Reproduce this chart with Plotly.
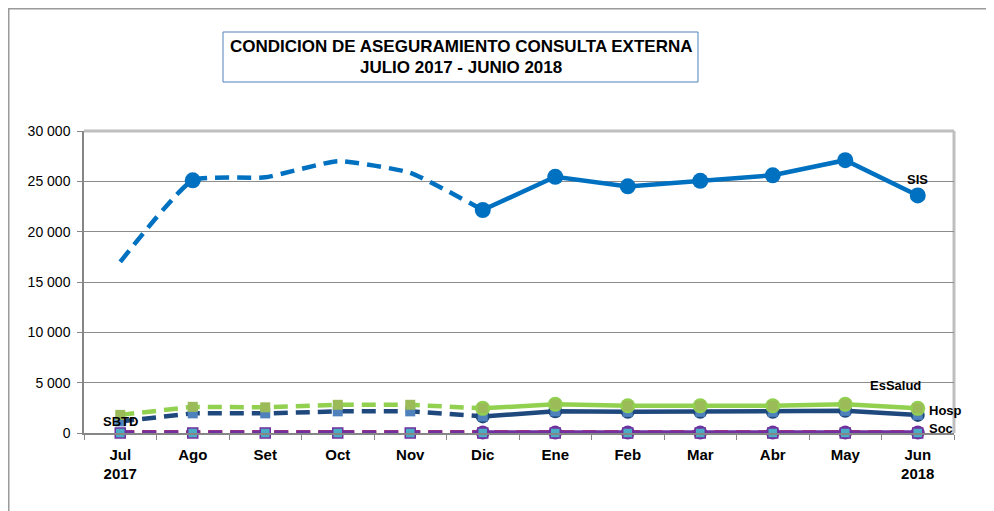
import plotly.graph_objects as go

months = ["Jul", "Ago", "Set", "Oct", "Nov", "Dic", "Ene", "Feb", "Mar", "Abr", "May", "Jun"]
tick_text = ["Jul<br>2017", "Ago", "Set", "Oct", "Nov", "Dic", "Ene", "Feb", "Mar", "Abr", "May", "Jun<br>2018"]

sis = [17000, 25100, 25400, 27000, 25850, 22150, 25450, 24500, 25050, 25600, 27100, 23600]
essalud = [1800, 2600, 2550, 2800, 2800, 2450, 2850, 2700, 2700, 2700, 2850, 2450]
hosp = [1150, 1950, 1950, 2150, 2150, 1650, 2150, 2100, 2100, 2100, 2200, 1800]
soc = [40, 40, 40, 40, 40, 40, 40, 40, 40, 40, 40, 40]
sbtd = [10, 10, 10, 10, 10, 10, 10, 10, 10, 10, 10, 10]

y_ticks = [0, 5000, 10000, 15000, 20000, 25000, 30000]
y_tick_text = ["0", "5 000", "10 000", "15 000", "20 000", "25 000", "30 000"]

DASH_END = 5  # dashed part Jul..Dic, solid Dic..Jun

fig = go.Figure()

def add_line(vals, color, width, dashed_shape="linear", clip=True):
    fig.add_trace(go.Scatter(x=months[:DASH_END + 1], y=vals[:DASH_END + 1], mode="lines",
                             line=dict(color=color, width=width, dash="14px,8px", shape=dashed_shape,
                                       smoothing=0.45),
                             cliponaxis=clip, hoverinfo="skip"))
    fig.add_trace(go.Scatter(x=months[DASH_END:], y=vals[DASH_END:], mode="lines",
                             line=dict(color=color, width=width), cliponaxis=clip, hoverinfo="skip"))

# near-zero series
fig.add_trace(go.Scatter(x=months, y=sbtd, mode="lines", cliponaxis=False,
                         line=dict(color="#FF0000", width=5.5, dash="14px,8px"), hoverinfo="skip"))
add_line(soc, "#7030A0", 4.5, clip=False)
fig.add_trace(go.Scatter(x=months[DASH_END:], y=soc[DASH_END:], mode="markers", cliponaxis=False,
                         marker=dict(symbol="circle", size=14, color="#7030A0"), hoverinfo="skip"))
fig.add_trace(go.Scatter(x=months, y=sbtd, mode="markers", cliponaxis=False,
                         marker=dict(symbol="square", size=10, color="#4BACC6",
                                     line=dict(color="#7030A0", width=1.5)), hoverinfo="skip"))

# Hosp
add_line(hosp, "#1F497D", 4.5)
fig.add_trace(go.Scatter(x=months[DASH_END:], y=hosp[DASH_END:], mode="markers",
                         marker=dict(symbol="circle", size=14, color="#1F497D"), hoverinfo="skip"))
fig.add_trace(go.Scatter(x=months, y=hosp, mode="markers",
                         marker=dict(symbol="square", size=10, color="#4F81BD"), hoverinfo="skip"))

# EsSalud
add_line(essalud, "#92D050", 4.5)
fig.add_trace(go.Scatter(x=months[DASH_END:], y=essalud[DASH_END:], mode="markers",
                         marker=dict(symbol="circle", size=15, color="#92D050"), hoverinfo="skip"))
fig.add_trace(go.Scatter(x=months, y=essalud, mode="markers",
                         marker=dict(symbol="square", size=10, color="#9BBB59"), hoverinfo="skip"))

# SIS
add_line(sis, "#0070C0", 4.5, dashed_shape="spline")
sis_marker_idx = [1] + list(range(DASH_END, len(months)))
fig.add_trace(go.Scatter(x=[months[i] for i in sis_marker_idx], y=[sis[i] for i in sis_marker_idx],
                         mode="markers", marker=dict(symbol="circle", size=16, color="#0070C0"),
                         hoverinfo="skip"))

# page offset (body margin) compensation
OFF = 8
FW, FH = 994 - OFF, 511 - OFF
# plot area in page px: x 84..954, y 131..433
L, R, T, B = 84, 954, 131, 433
W, H = R - L, B - T
def px(x):
    return (x - L) / W
def py(y):
    return (B - y) / H

shapes = [
    # outer chart frame (top and left)
    dict(type="line", xref="paper", yref="paper", x0=px(8), x1=px(994), y0=py(8.5), y1=py(8.5),
         line=dict(color="#9A9A9A", width=2)),
    dict(type="line", xref="paper", yref="paper", x0=px(8.5), x1=px(8.5), y0=py(8), y1=py(511),
         line=dict(color="#9A9A9A", width=2)),
    # plot area frame top/right
    dict(type="line", xref="paper", yref="paper", x0=0, x1=1, y0=1, y1=1,
         line=dict(color="#BFBFBF", width=3), layer="below"),
    dict(type="line", xref="paper", yref="paper", x0=1, x1=1, y0=0, y1=1,
         line=dict(color="#BFBFBF", width=3), layer="below"),
    # title box
    dict(type="rect", xref="paper", yref="paper", x0=px(223), x1=px(698), y0=py(32), y1=py(82),
         line=dict(color="#4F81BD", width=1), fillcolor="white"),
]

lab_font = dict(family="Liberation Sans, Arial, sans-serif", size=13, color="#000000")
title_font = dict(family="Liberation Sans, Arial, sans-serif", size=17, color="#000000")
annotations = [
    dict(text="<b>CONDICION DE ASEGURAMIENTO CONSULTA EXTERNA</b>", xref="paper", yref="paper",
         x=px(460.5), y=py(46), showarrow=False, xanchor="center", yanchor="middle", font=title_font),
    dict(text="<b>JULIO 2017 - JUNIO 2018</b>", xref="paper", yref="paper",
         x=px(460.5), y=py(68), showarrow=False, xanchor="center", yanchor="middle", font=title_font),
    dict(text="<b>SIS</b>", x=months[11], y=25200, showarrow=False, xanchor="center",
         yanchor="middle", font=lab_font),
    dict(text="<b>EsSalud</b>", xref="paper", x=px(895), y=4750, showarrow=False,
         xanchor="center", yanchor="middle", font=lab_font),
    dict(text="<b>Hosp</b>", xref="paper", x=px(927), y=2250, showarrow=False,
         xanchor="left", yanchor="middle", font=lab_font),
    dict(text="<b>Soc</b>", xref="paper", x=px(927), y=450, showarrow=False,
         xanchor="left", yanchor="middle", font=lab_font),
    dict(text="<b>SBTD</b>", x=months[0], y=1100, showarrow=False, xanchor="center",
         yanchor="middle", font=lab_font),
]

fig.update_layout(
    width=FW, height=FH,
    margin=dict(l=L - OFF, r=994 - R, t=T - OFF, b=511 - B, pad=0),
    paper_bgcolor="white", plot_bgcolor="white",
    showlegend=False,
    shapes=shapes,
    annotations=annotations,
    xaxis=dict(type="category", categoryorder="array", categoryarray=months,
               tickvals=months, ticktext=[f"<b>{t}</b>" for t in tick_text],
               range=[-0.5, len(months) - 0.5],
               showgrid=False, zeroline=False, showline=True, linecolor="#868686", linewidth=1.5,
               ticks="outside", tickson="boundaries", ticklen=5, tickcolor="#868686",
               ticklabelstandoff=7,
               tickfont=dict(family="Liberation Sans, Arial, sans-serif", size=15, color="#000000")),
    yaxis=dict(range=[0, 30000], tickvals=y_ticks, ticktext=y_tick_text,
               showgrid=True, gridcolor="#8C8C8C", gridwidth=1, zeroline=False,
               showline=True, linecolor="#868686", linewidth=1.5,
               ticks="outside", ticklen=5, tickcolor="#868686",
               ticklabelstandoff=4,
               tickfont=dict(family="Liberation Sans, Arial, sans-serif", size=14, color="#000000")),
)

fig.write_html("out.html")
